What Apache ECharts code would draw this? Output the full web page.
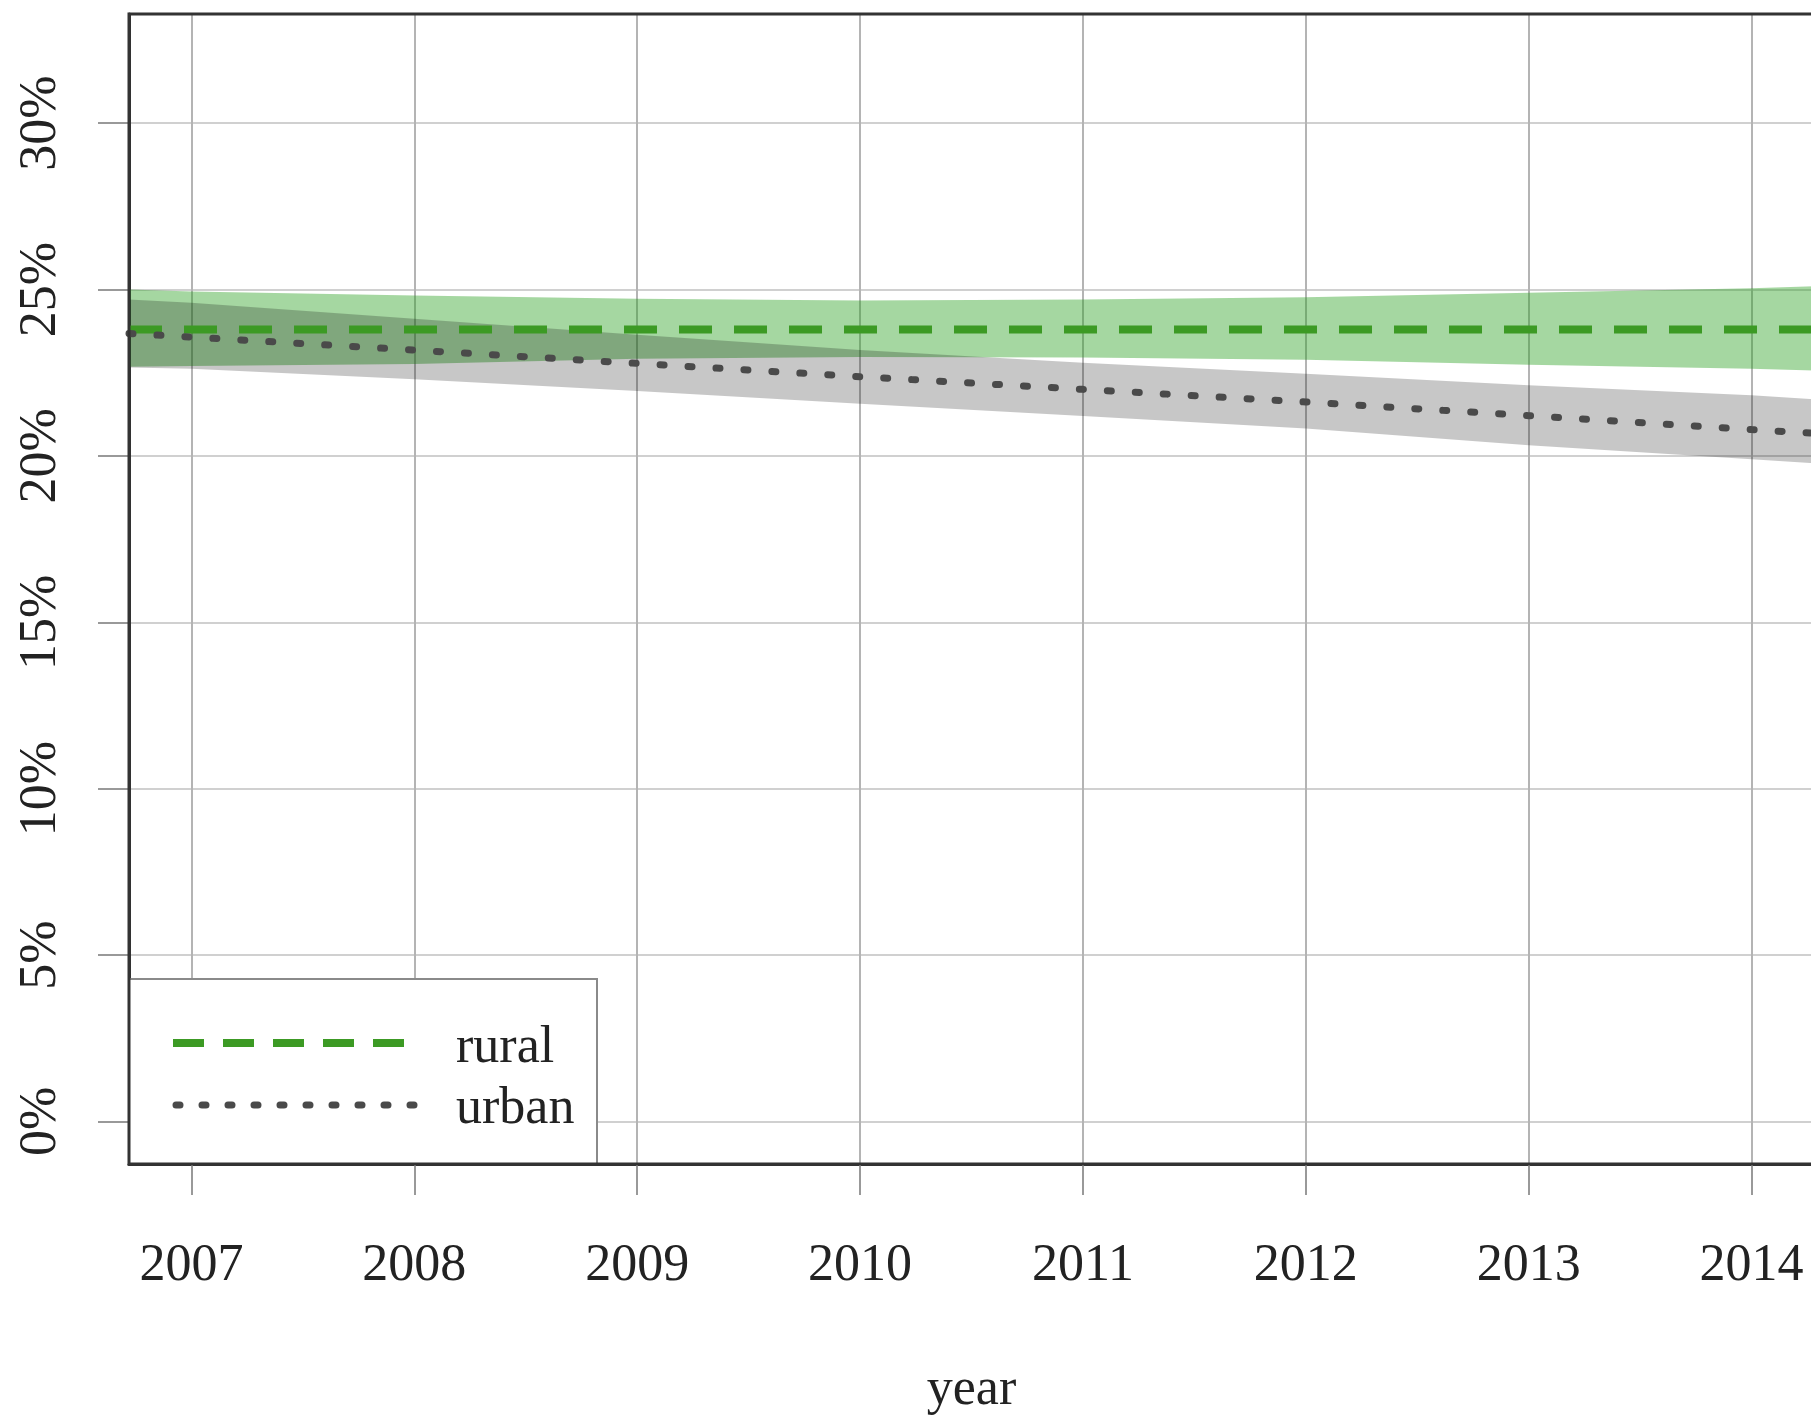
<!DOCTYPE html>
<html><head><meta charset="utf-8">
<script src="https://cdn.jsdelivr.net/npm/echarts@6/dist/echarts.min.js"></script>
<style>
html,body{margin:0;padding:0;overflow:hidden;background:#fff;width:1811px;height:1416px}
#c{width:1816px;height:1416px}
</style>
</head><body><div id="c"></div>
<script>
// ---- data ----
const yearsX = [2006.72, 2007, 2008, 2009, 2010, 2011, 2012, 2013, 2014, 2014.28];
const xTicks = [2007, 2008, 2009, 2010, 2011, 2012, 2013, 2014];
const yTicks = [0, 5, 10, 15, 20, 25, 30];

const ruralMean  = [23.80, 23.80, 23.80, 23.80, 23.80, 23.80, 23.80, 23.80, 23.80, 23.80];
const ruralUpper = [25.00, 24.94, 24.82, 24.72, 24.67, 24.70, 24.77, 24.90, 25.04, 25.10];
const ruralLower = [22.68, 22.70, 22.76, 22.92, 22.97, 22.96, 22.89, 22.74, 22.62, 22.57];

const urbanMean  = [23.68, 23.57, 23.18, 22.78, 22.38, 22.00, 21.62, 21.21, 20.79, 20.68];
const urbanUpper = [24.70, 24.60, 24.12, 23.64, 23.18, 22.80, 22.47, 22.12, 21.82, 21.70];
const urbanLower = [22.66, 22.62, 22.30, 21.95, 21.57, 21.20, 20.82, 20.32, 19.90, 19.78];

const legendNames = ['rural', 'urban'];
// ----------------------------------------

const FONT = 'Liberation Serif';
const chart = echarts.init(document.getElementById('c'), null, {renderer: 'canvas'});

function bandSeries(name, upper, lower, color, z) {
  return {
    type: 'custom', name: name, z: z, silent: true,
    encode: {x: 0, y: [1, 2]},
    data: yearsX.map((x, i) => [x, lower[i], upper[i]]),
    renderItem: function (params, api) {
      if (params.dataIndex !== 0) return null;
      const pts = [];
      for (let i = 0; i < yearsX.length; i++) pts.push(api.coord([yearsX[i], upper[i]]));
      for (let i = yearsX.length - 1; i >= 0; i--) pts.push(api.coord([yearsX[i], lower[i]]));
      return {type: 'polygon', shape: {points: pts}, style: {fill: color}};
    }
  };
}

const option = {
  animation: false,
  backgroundColor: '#fff',
  grid: {
    left: 129, top: 14, right: 2, bottom: 252,
    outerBoundsMode: 'none', containLabel: false,
    show: true, z: 10, borderColor: '#333', borderWidth: 3, backgroundColor: 'transparent'
  },
  xAxis: {
    type: 'value', min: 2006.72, max: 2014.28,
    axisLine: {show: true, onZero: false, lineStyle: {color: '#333', width: 3}},
    axisTick: {show: true, inside: false, length: 31, customValues: xTicks, lineStyle: {color: '#999', width: 2}},
    axisLabel: {customValues: xTicks, margin: 76, fontSize: 52, fontFamily: FONT, color: '#222',
      formatter: v => String(v)},
    splitLine: {show: true, lineStyle: {color: '#b4b4b4', width: 2}},
    name: 'year', nameLocation: 'middle', nameGap: 200,
    nameTextStyle: {fontSize: 52, fontFamily: FONT, color: '#222'}
  },
  yAxis: {
    type: 'value', min: -1.28, max: 33.28,
    axisLine: {show: true, onZero: false, lineStyle: {color: '#333', width: 3}},
    axisTick: {show: true, inside: false, length: 31, customValues: yTicks, lineStyle: {color: '#999', width: 2}},
    axisLabel: {customValues: yTicks, rotate: 90, margin: 62, fontSize: 52, fontFamily: FONT, color: '#222',
      formatter: v => v + '%'},
    splitLine: {show: true, lineStyle: {color: '#d0d0d0', width: 2}}
  },
  series: [
    bandSeries('rural band', ruralUpper, ruralLower, 'rgba(40,160,30,0.42)', 1),
    bandSeries('urban band', urbanUpper, urbanLower, 'rgba(0,0,0,0.22)', 2),
    {
      type: 'line', name: legendNames[0], z: 3, symbol: 'none', silent: true,
      data: yearsX.map((x, i) => [x, ruralMean[i]]),
      lineStyle: {color: '#3c9a24', width: 8, type: [33, 22]}
    },
    {
      type: 'line', name: legendNames[1], z: 4, symbol: 'none', silent: true,
      data: yearsX.map((x, i) => [x, urbanMean[i]]),
      lineStyle: {color: '#4a4a4a', width: 7, type: [4, 24], cap: 'round'}
    }
  ],
  graphic: [
    {type: 'rect', z: 5, shape: {x: 129, y: 979, width: 468, height: 185},
      style: {fill: '#fff', stroke: '#8a8a8a', lineWidth: 2}},
    {type: 'line', z: 6, shape: {x1: 173, y1: 1043, x2: 404, y2: 1043},
      style: {stroke: '#3c9a24', lineWidth: 8, lineDash: [31, 19]}},
    {type: 'line', z: 6, shape: {x1: 176, y1: 1105, x2: 414, y2: 1105},
      style: {stroke: '#4a4a4a', lineWidth: 7, lineDash: [4, 22], lineCap: 'round'}},
    {type: 'text', z: 6, x: 456, y: 1048,
      style: {text: legendNames[0], font: '52px "Liberation Serif"', fill: '#222', verticalAlign: 'middle'}},
    {type: 'text', z: 6, x: 456, y: 1109,
      style: {text: legendNames[1], font: '52px "Liberation Serif"', fill: '#222', verticalAlign: 'middle'}}
  ]
};
chart.setOption(option);
</script>
</body></html>
